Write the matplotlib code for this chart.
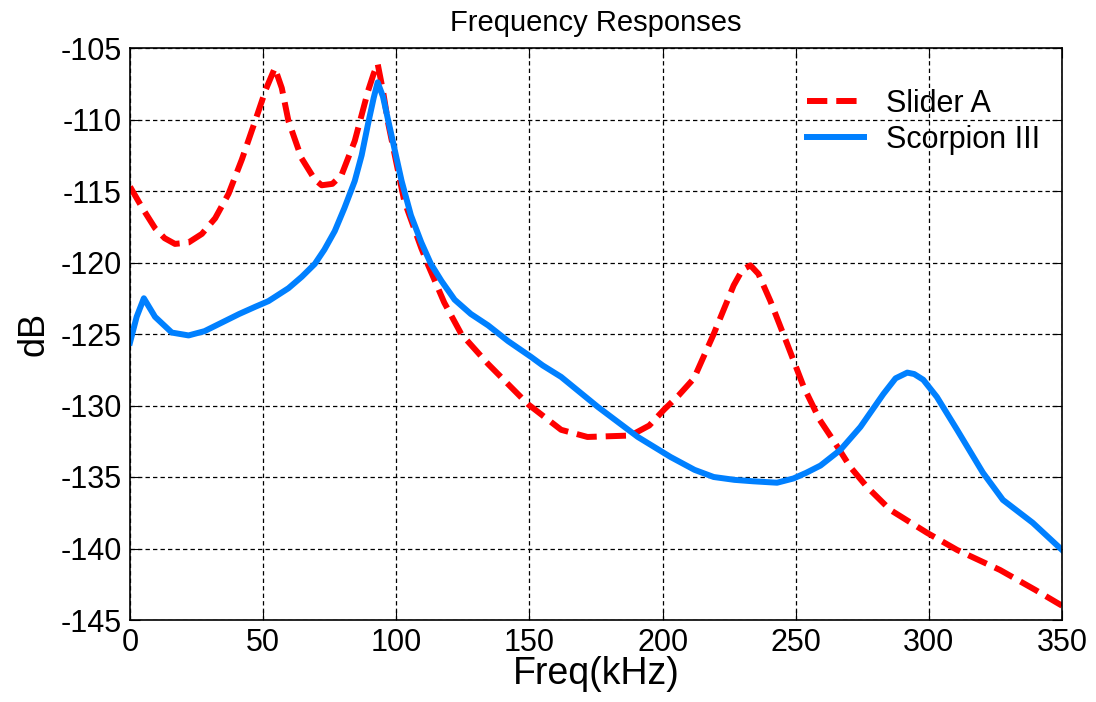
import matplotlib
matplotlib.use('Agg')
import matplotlib.pyplot as plt

plt.rcParams['font.family'] = ['Liberation Sans', 'DejaVu Sans']
plt.rcParams['axes.unicode_minus'] = False

# Slider A (red dashed)
slider_f = [0, 5, 9.4, 13, 16.9, 22, 27, 32, 37, 42, 47, 51, 54.4, 57, 59.5, 64.4, 69.4,
            72, 76, 79.4, 84.4, 89.4, 91.5, 93, 95, 97, 103, 109.4, 112, 118, 124.4, 134.5,
            149.4, 161.9, 171.8, 188, 195, 200.5, 206, 211.8, 219.2, 226.7, 230, 233, 236,
            240.5, 246.8, 253, 259, 264, 270.5, 276.8, 285.5, 299.3, 310.6, 326.7, 340, 350]
slider_db = [-114.7, -116.3, -117.6, -118.3, -118.7, -118.6, -118.0, -116.9, -115.2, -112.8,
             -110.1, -107.9, -106.4, -107.8, -110.1, -112.7, -114.2, -114.6, -114.5, -113.9,
             -111.5, -108.0, -106.8, -106.1, -108.0, -110.3, -115.7, -119.0, -120.2, -122.8,
             -125.0, -127.1, -129.9, -131.7, -132.2, -132.1, -131.4, -130.3, -129.3, -128.1,
             -125.0, -121.6, -120.5, -120.2, -120.8, -122.7, -125.7, -128.7, -131.0, -132.4,
             -134.3, -135.7, -137.3, -138.9, -140.1, -141.5, -142.9, -144.0]

# Scorpion III (blue solid)
scorp_f = [0, 2.5, 5.2, 9.4, 15.7, 22, 28, 34.5, 41, 47, 52, 59.5, 64.5, 69.4, 73, 76.9,
           80.5, 84.4, 87, 89.4, 91.5, 93, 95, 97, 99.5, 102, 105.5, 109.4, 113, 117, 121.9,
           128, 134.5, 142, 150.6, 155, 161.9, 175.7, 190.7, 203, 212, 219.2, 227, 234, 243,
           249.2, 254, 259.3, 266.8, 274.3, 282.9, 287.5, 291.9, 294.5, 297.9, 303, 310.6,
           320.3, 327.8, 339, 350]
scorp_db = [-125.6, -123.8, -122.5, -123.8, -124.9, -125.1, -124.8, -124.2, -123.6, -123.1,
            -122.7, -121.8, -121.0, -120.1, -119.1, -117.8, -116.2, -114.3, -112.5, -110.3,
            -108.5, -107.4, -108.4, -110.1, -112.2, -114.3, -116.7, -118.6, -120.1, -121.3,
            -122.6, -123.6, -124.4, -125.5, -126.6, -127.2, -128.0, -130.1, -132.2, -133.6,
            -134.5, -135.0, -135.2, -135.3, -135.4, -135.1, -134.7, -134.2, -133.1, -131.5,
            -129.2, -128.1, -127.7, -127.8, -128.2, -129.4, -131.7, -134.7, -136.6, -138.2,
            -140.1]

xticks = [0, 50, 100, 150, 200, 250, 300, 350]
yticks = [-105, -110, -115, -120, -125, -130, -135, -140, -145]

fig = plt.figure(figsize=(10.96, 7.02), dpi=100)
ax = fig.add_axes([130 / 1096, 82 / 702, 932 / 1096, 572 / 702])

ax.plot(slider_f, slider_db, color='#ff0000', lw=4.3, dashes=(3.4, 1.5), label='Slider A')
ax.plot(scorp_f, scorp_db, color='#0080ff', lw=4.3, label='Scorpion III')

ax.set_xlim(0, 350)
ax.set_ylim(-145, -105)
ax.set_xticks(xticks)
ax.set_yticks(yticks)
ax.grid(True, color='black', linestyle=(0, (3.5, 2.5)), linewidth=0.9)
ax.tick_params(direction='in', top=True, right=True, labelsize=22, length=7, pad=6)
for s in ax.spines.values():
    s.set_linewidth(1.2)

ax.set_xlabel('Freq(kHz)', fontsize=27, labelpad=-2)
ax.set_ylabel('dB', fontsize=26, labelpad=6)
ax.set_title('Frequency Responses', fontsize=21, pad=12)

ax.legend(loc='upper left', bbox_to_anchor=(0.7264, 0.928), frameon=False, fontsize=22,
          handlelength=1.85, handletextpad=0.72, labelspacing=0.18,
          borderpad=0, borderaxespad=0)

fig.savefig('out.png', dpi=100)
